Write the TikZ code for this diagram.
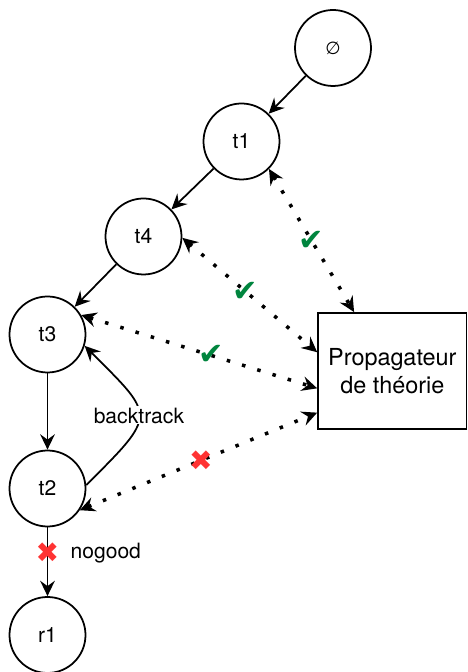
\documentclass[tikz,border=0pt]{standalone}
\usepackage{fontspec}
\setmainfont{TeX Gyre Heros}
\newfontfamily\symfont{DejaVu Sans}
\usetikzlibrary{arrows.meta}
\definecolor{okgreen}{RGB}{0,133,62}
\definecolor{badred}{RGB}{255,51,51}
\begin{document}
\begin{tikzpicture}[
  font=\fontsize{18}{24}\selectfont,
  >={Stealth[length=4.6mm,width=4.4mm,inset=1.6mm]},
  state/.style={shape=circle,draw,line width=1.5pt,minimum size=2.28cm,inner sep=0pt},
  link/.style={->,line width=1.5pt},
  probe/.style={<->,line width=3pt,dash pattern=on 3pt off 10.6pt},
  ok/.style={text=okgreen,font=\symfont\fontsize{26}{26}\selectfont},
  bad/.style={text=badred,font=\symfont\fontsize{24}{24}\selectfont}]
\useasboundingbox (0,0) rectangle (14.04,20.16);
% search tree
\node[state](E) at (9.99,18.72){\symfont\fontsize{15}{15}\selectfont ∅};
\node[state](T1) at (7.245,15.915){t1};
\node[state](T4) at (4.305,13.065){t4};
\node[state](T3) at (1.425,10.125){t3};
\node[state](T2) at (1.425,5.505){t2};
\node[state](R1) at (1.425,1.11){r1};
\node[draw,line width=1.5pt,shape=rectangle,minimum width=4.455cm,minimum height=3.48cm,align=center,font=\fontsize{20}{24.5}\selectfont](P) at (11.77,9.03){Propagateur\\de théorie};
\draw[link] (E) -- (T1);
\draw[link] (T1) -- (T4);
\draw[link] (T4) -- (T3);
\draw[link] (T3) -- (T2);
\draw[link] (T2) -- node[pos=0.37,bad](X2){✖} node[pos=0.37,right=0.55cm]{nogood} (R1);
\draw[link] (T2.5) to[out=45,in=-45,looseness=1.85] node[fill=white,inner sep=1pt]{backtrack} (T3.-17);
% calls to the theory propagator
\draw[probe] (T1.-45) -- node[pos=0.5,ok]{✔} (P.123);
\draw[probe] (T4.-2) -- node[pos=0.47,ok]{✔} (P.166);
\draw[probe] (T3.30) -- node[pos=0.55,ok]{✔} (P.193);
\draw[probe] (T2.-34) -- node[pos=0.51,bad]{✖} (P.209);
\end{tikzpicture}
\end{document}
